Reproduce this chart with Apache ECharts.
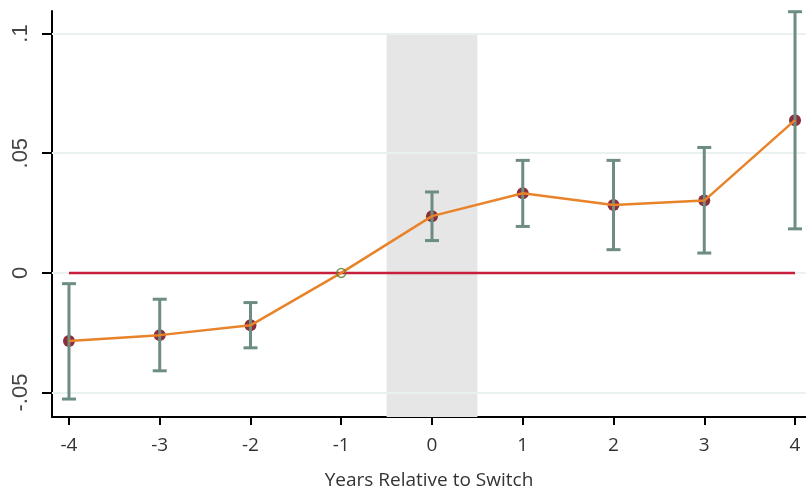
<!DOCTYPE html>
<html>
<head>
<meta charset="utf-8">
<script src="https://cdn.jsdelivr.net/npm/echarts@6/dist/echarts.min.js"></script>
<style>
  html, body { margin: 0; padding: 0; background: #fff; }
  #main { width: 806px; height: 487px; }
</style>
</head>
<body>
<div id="main"></div>
<script>
// event-study estimates
var years = [-4, -3, -2, -1, 0, 1, 2, 3, 4];
var estimates = [-0.0285, -0.026, -0.0219, 0, 0.0237, 0.0333, 0.0284, 0.0302, 0.0638];
var ciLow = [-0.0527, -0.0409, -0.0313, null, 0.0135, 0.0194, 0.0097, 0.0083, 0.0184];
var ciHigh = [-0.0045, -0.011, -0.0124, null, 0.0338, 0.047, 0.047, 0.0524, 0.1091];
var yTicks = [-0.05, 0, 0.05, 0.1];
var yTickLabels = ['-.05', '0', '.05', '.1'];
var xTicks = [-4, -3, -2, -1, 0, 1, 2, 3, 4];
var refYear = -1;

var yMin = -0.0602, yMax = 0.1094;

var myChart = echarts.init(document.getElementById('main'));

var linePts = years.map(function (y, i) { return [y, estimates[i]]; });
var dotPts = [];
var barPts = [];
years.forEach(function (y, i) {
  if (y !== refYear) {
    dotPts.push([y, estimates[i]]);
    barPts.push([y, ciLow[i], ciHigh[i]]);
  }
});

var option = {
  animation: false,
  grid: { left: 52, right: 0, top: 11, bottom: 70, containLabel: false, outerBoundsMode: 'none' },
  xAxis: {
    type: 'value',
    min: -4.187,
    max: 4.121,
    name: 'Years Relative to Switch',
    nameLocation: 'middle',
    nameGap: 54,
    nameTextStyle: { fontFamily: 'Open Sans', fontSize: 19, color: '#333' },
    axisLine: { onZero: false, lineStyle: { color: '#000', width: 2 } },
    axisTick: { customValues: xTicks, length: 8, lineStyle: { color: '#000', width: 2 } },
    axisLabel: {
      customValues: xTicks,
      margin: 19,
      fontFamily: 'Open Sans',
      fontSize: 19,
      color: '#333'
    },
    splitLine: { show: false }
  },
  yAxis: {
    type: 'value',
    min: yMin,
    max: yMax,
    axisLine: { show: true, onZero: false, lineStyle: { color: '#000', width: 2 } },
    axisTick: { customValues: yTicks, length: 10, lineStyle: { color: '#000', width: 2 } },
    axisLabel: {
      customValues: yTicks,
      rotate: 90,
      margin: 20,
      fontFamily: 'Liberation Sans',
      fontSize: 22,
      color: '#444',
      formatter: function (v) {
        var i = yTicks.findIndex(function (t) { return Math.abs(t - v) < 1e-9; });
        return i >= 0 ? yTickLabels[i] : '';
      }
    },
    splitLine: { show: false }
  },
  series: [
    {
      // shaded switch year + grid lines
      type: 'line',
      data: [],
      silent: true,
      z: 1,
      markArea: {
        silent: true,
        z: 1,
        itemStyle: { color: '#e6e6e6' },
        data: [[{ xAxis: -0.5, yAxis: 0.1 }, { xAxis: 0.5, yAxis: yMin }]]
      },
      markLine: {
        silent: true,
        z: 2,
        symbol: 'none',
        label: { show: false },
        lineStyle: { color: '#e9f1f1', width: 2, type: 'solid' },
        data: yTicks.map(function (t) { return { yAxis: t }; })
      }
    },
    {
      // zero reference line
      type: 'line',
      data: [[xTicks[0], 0], [xTicks[xTicks.length - 1], 0]],
      symbol: 'none',
      silent: true,
      lineStyle: { color: '#c8203c', width: 2.5 },
      z: 3
    },
    {
      type: 'scatter',
      data: dotPts,
      symbolSize: 12,
      itemStyle: { color: '#8b2e3a', opacity: 1 },
      z: 4
    },
    {
      type: 'custom',
      data: barPts,
      z: 5,
      renderItem: function (params, api) {
        var x = api.value(0);
        var top = api.coord([x, api.value(2)]);
        var bot = api.coord([x, api.value(1)]);
        var hw = 7;
        var st = { stroke: '#6d8d84', lineWidth: 3 };
        return {
          type: 'group',
          children: [
            { type: 'line', shape: { x1: top[0], y1: top[1], x2: bot[0], y2: bot[1] }, style: st },
            { type: 'line', shape: { x1: top[0] - hw, y1: top[1], x2: top[0] + hw, y2: top[1] }, style: st },
            { type: 'line', shape: { x1: bot[0] - hw, y1: bot[1], x2: bot[0] + hw, y2: bot[1] }, style: st }
          ]
        };
      }
    },
    {
      type: 'line',
      data: linePts,
      symbol: 'none',
      lineStyle: { color: '#e8832a', width: 2.5 },
      z: 6
    },
    {
      // omitted reference year
      type: 'scatter',
      data: [[refYear, 0]],
      symbolSize: 9,
      itemStyle: { color: 'rgba(255,255,255,0)', borderColor: '#5b7a2c', borderWidth: 1.5 },
      z: 7
    }
  ]
};

myChart.setOption(option);
</script>
</body>
</html>
